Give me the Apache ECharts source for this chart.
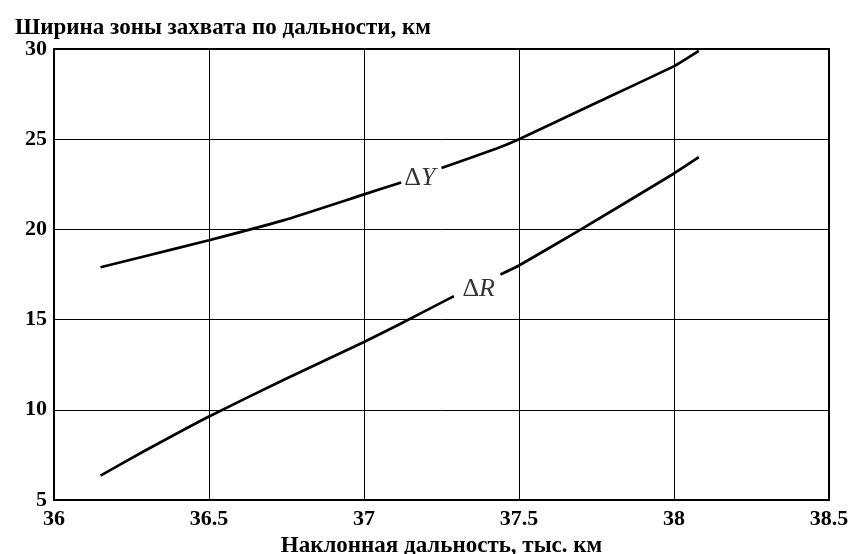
<!DOCTYPE html>
<html>
<head>
<meta charset="utf-8">
<script src="https://cdn.jsdelivr.net/npm/echarts@6/dist/echarts.min.js"></script>
<style>
html,body{margin:0;padding:0;background:#fff;}
#chart{width:852px;height:554px;}
</style>
</head>
<body>
<div id="chart"></div>
<script>
// ΔY curve (null = gap where label sits)
const dyX = [36.15, 36.29, 36.5, 36.74, 37.0, 37.12, null, 37.25, 37.43, 37.5, 37.76, 38.0, 38.08];
const dyV = [17.9, 18.5, 19.4, 20.5, 21.94, 22.6, null, 23.4, 24.5, 25.0, 27.1, 29.05, 29.9];
// ΔR curve
const drX = [36.15, 36.29, 36.5, 36.74, 37.0, 37.11, 37.29, null, 37.44, 37.5, 37.7, 38.0, 38.08];
const drV = [6.35, 7.7, 9.63, 11.65, 13.76, 14.7, 16.3, null, 17.5, 18.0, 20.0, 23.1, 24.0];
// curve labels
const labelNames = ['Y', 'R'];
const labelX = [37.18, 37.37];
const labelV = [22.85, 16.67];

const titleText = 'Ширина зоны захвата по дальности, км';
const xName = 'Наклонная дальность, тыс. км';
const xMin = 36, xMax = 38.5, xStep = 0.5;
const yMin = 5, yMax = 30, yStep = 5;

const FONT = "'Liberation Serif','Times New Roman',serif";

function pairs(xs, vs) {
  return xs.map((x, i) => (x === null ? '-' : [x, vs[i]]));
}

const chart = echarts.init(document.getElementById('chart'), null, {renderer: 'canvas'});
chart.setOption({
  animation: false,
  backgroundColor: '#fff',
  title: {
    text: titleText,
    left: 10, top: 12,
    textStyle: {fontFamily: FONT, fontWeight: 'bold', fontSize: 23, color: '#000'}
  },
  grid: {left: 54, right: 23, top: 49, bottom: 54, show: true, borderColor: '#000', borderWidth: 2,
         backgroundColor: 'transparent', containLabel: false, outerBoundsMode: 'none'},
  xAxis: {
    type: 'value', min: xMin, max: xMax, interval: xStep,
    name: xName, nameLocation: 'middle', nameGap: 33,
    nameTextStyle: {fontFamily: FONT, fontWeight: 'bold', fontSize: 23, color: '#000'},
    axisLine: {lineStyle: {color: '#000', width: 2}},
    axisTick: {show: false},
    axisLabel: {fontFamily: FONT, fontWeight: 'bold', fontSize: 22, color: '#000', margin: 8},
    splitLine: {show: true, lineStyle: {color: '#000', width: 1}}
  },
  yAxis: {
    type: 'value', min: yMin, max: yMax, interval: yStep,
    axisLine: {show: true, lineStyle: {color: '#000', width: 2}},
    axisTick: {show: false},
    axisLabel: {fontFamily: FONT, fontWeight: 'bold', fontSize: 22, color: '#000', margin: 7},
    splitLine: {show: true, lineStyle: {color: '#000', width: 1}}
  },
  series: [
    {type: 'line', data: pairs(dyX, dyV), showSymbol: false, smooth: 0.15, connectNulls: false,
     lineStyle: {color: '#000', width: 2.7}},
    {type: 'line', data: pairs(drX, drV), showSymbol: false, smooth: 0.15, connectNulls: false,
     lineStyle: {color: '#000', width: 2.7}},
    {type: 'scatter', symbolSize: 0,
     data: labelNames.map((n, i) => ({value: [labelX[i], labelV[i]], name: n})),
     label: {
       show: true, position: 'inside',
       formatter: p => '{d|Δ}{v|' + p.name + '}',
       rich: {
         d: {fontFamily: FONT, fontSize: 26, color: '#000'},
         v: {fontFamily: FONT, fontSize: 26, fontStyle: 'italic', color: '#000'}
       }
     }}
  ]
});
</script>
</body>
</html>
